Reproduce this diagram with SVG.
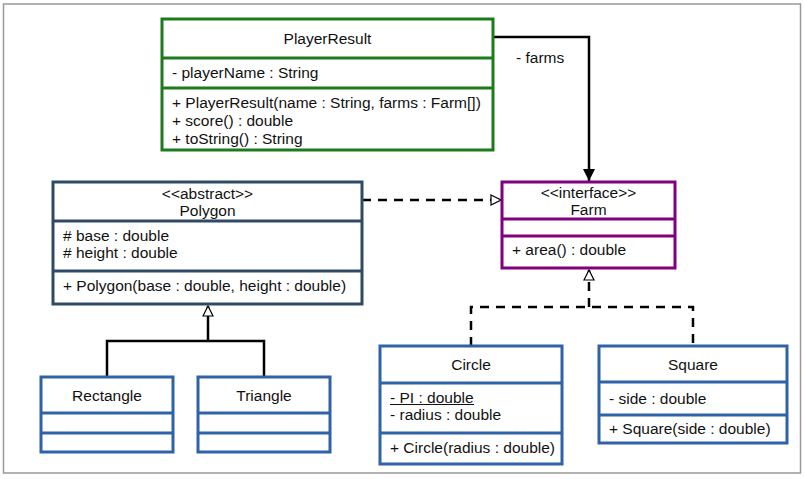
<svg xmlns="http://www.w3.org/2000/svg" width="805" height="479" viewBox="0 0 805 479">
<defs>
<style>
text{font-family:"Liberation Sans",Arial,sans-serif;font-size:15.5px;fill:#111;dominant-baseline:central}
.c{text-anchor:middle}
.box{fill:#fff;stroke-width:3}
.g{stroke:#1d7a1d}
.s{stroke:#2e4a66}
.p{stroke:#800080}
.b{stroke:#2f62a8}
.ln{fill:none;stroke:#000;stroke-width:2.5}
.dash{stroke-dasharray:9 7}
</style>
<marker id="hollow" viewBox="0 0 12 12" markerWidth="12" markerHeight="12" refX="11" refY="6" orient="auto" markerUnits="userSpaceOnUse">
<path d="M1,1 L11,6 L1,11 Z" fill="#fff" stroke="#000" stroke-width="1.2"/>
</marker>
<marker id="filled" viewBox="0 0 14 14" markerWidth="14" markerHeight="14" refX="13" refY="7" orient="auto" markerUnits="userSpaceOnUse">
<path d="M1,1 L13,7 L1,13 Z" fill="#000"/>
</marker>
</defs>
<rect x="3.5" y="4" width="797" height="469" fill="#fff" stroke="#999" stroke-width="1.5"/>
<g id="connectors">
<path class="ln" d="M493,37 H589 V181" marker-end="url(#filled)"/>
<text x="516" y="57">- farms</text>
<path class="ln dash" d="M362,200 H501" marker-end="url(#hollow)"/>
<path class="ln" d="M107,377 V341 H264 V377 M208,341 V306" marker-end="url(#hollow)"/>
<path class="ln dash" d="M471,346 V307 H693 V346"/>
<path class="ln dash" d="M589,307 V270" marker-end="url(#hollow)"/>
</g>
<g id="PlayerResult">
<rect class="box g" x="162" y="19" width="331" height="131"/>
<path class="g" stroke-width="3" d="M162,58 H493 M162,88 H493"/>
<text class="c" x="327.5" y="38">PlayerResult</text>
<text x="172" y="72">- playerName : String</text>
<text x="172" y="102">+ PlayerResult(name : String, farms : Farm[])</text>
<text x="172" y="120">+ score() : double</text>
<text x="172" y="138">+ toString() : String</text>
</g>
<g id="Polygon">
<rect class="box s" x="53" y="182" width="309" height="122"/>
<path class="s" stroke-width="3" d="M53,221 H362 M53,271 H362"/>
<text class="c" x="207.5" y="193">&lt;&lt;abstract&gt;&gt;</text>
<text class="c" x="207.5" y="210">Polygon</text>
<text x="63" y="235"># base : double</text>
<text x="63" y="252"># height : double</text>
<text x="63" y="285">+ Polygon(base : double, height : double)</text>
</g>
<g id="Farm">
<rect class="box p" x="502" y="182" width="173" height="86"/>
<path class="p" stroke-width="3" d="M502,219 H675 M502,236 H675"/>
<text class="c" x="588.5" y="192">&lt;&lt;interface&gt;&gt;</text>
<text class="c" x="588.5" y="209">Farm</text>
<text x="512" y="249">+ area() : double</text>
</g>
<g id="Rectangle">
<rect class="box b" x="41" y="377" width="132" height="75"/>
<path class="b" stroke-width="3" d="M41,413 H173 M41,433 H173"/>
<text class="c" x="107" y="395">Rectangle</text>
</g>
<g id="Triangle">
<rect class="box b" x="198" y="377" width="132" height="75"/>
<path class="b" stroke-width="3" d="M198,413 H330 M198,433 H330"/>
<text class="c" x="264" y="395">Triangle</text>
</g>
<g id="Circle">
<rect class="box b" x="380" y="346" width="182" height="118"/>
<path class="b" stroke-width="3" d="M380,383 H562 M380,433 H562"/>
<text class="c" x="471" y="364">Circle</text>
<text x="390" y="397">- PI : double</text>
<path d="M390,404.5 H474" stroke="#111" stroke-width="1"/>
<text x="390" y="414">- radius : double</text>
<text x="390" y="447">+ Circle(radius : double)</text>
</g>
<g id="Square">
<rect class="box b" x="599" y="346" width="188" height="97"/>
<path class="b" stroke-width="3" d="M599,382 H787 M599,415 H787"/>
<text class="c" x="693" y="364">Square</text>
<text x="609" y="398">- side : double</text>
<text x="609" y="428">+ Square(side : double)</text>
</g>
</svg>
